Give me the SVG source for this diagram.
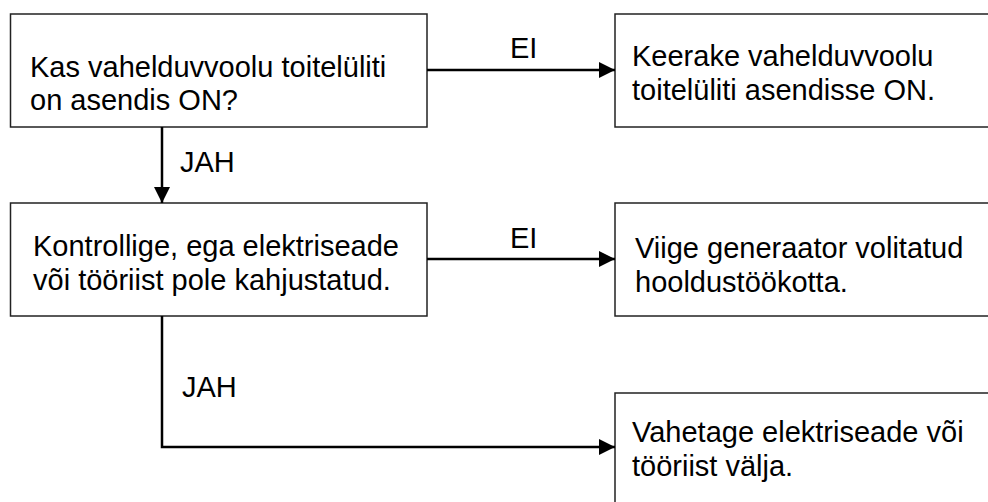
<svg xmlns="http://www.w3.org/2000/svg" width="988" height="502" viewBox="0 0 988 502">
<style>
.box{fill:#fff;stroke:#222;stroke-width:1.5}
.t{font-family:"Liberation Sans",Arial,sans-serif;font-size:29px;fill:#000}
.c{fill:none;stroke:#000;stroke-width:2.5}
</style>
<defs>
<marker id="ah" markerWidth="16" markerHeight="17" viewBox="0 0 16 17" refX="16" refY="8.5" orient="auto" markerUnits="userSpaceOnUse">
<path d="M0,0.5 L16,8.5 L0,16.5 Z" fill="#000"/>
</marker>
</defs>
<rect width="988" height="502" fill="#fff"/>
<g id="q1">
<rect class="box" x="10.5" y="14" width="416.5" height="113"/>
<text class="t" x="30" y="77">Kas vahelduvvoolu toitelüliti</text>
<text class="t" x="30" y="110">on asendis ON?</text>
</g>
<g id="a1">
<rect class="box" x="615" y="14" width="400" height="113"/>
<text class="t" x="632" y="66">Keerake vahelduvvoolu</text>
<text class="t" x="632" y="100">toitelüliti asendisse ON.</text>
</g>
<g id="q2">
<rect class="box" x="10.5" y="203" width="416.5" height="113"/>
<text class="t" x="33" y="256">Kontrollige, ega elektriseade</text>
<text class="t" x="33" y="290">või tööriist pole kahjustatud.</text>
</g>
<g id="a2">
<rect class="box" x="615" y="203" width="400" height="113"/>
<text class="t" x="635" y="258">Viige generaator volitatud</text>
<text class="t" x="635" y="292">hooldustöökotta.</text>
</g>
<g id="a3">
<rect class="box" x="615" y="393" width="400" height="130"/>
<text class="t" x="632" y="442">Vahetage elektriseade või</text>
<text class="t" x="632" y="476">tööriist välja.</text>
</g>
<g id="connectors">
<line class="c" x1="427" y1="70" x2="615" y2="70" marker-end="url(#ah)"/>
<line class="c" x1="162" y1="127" x2="162" y2="203" marker-end="url(#ah)"/>
<line class="c" x1="427" y1="259" x2="615" y2="259" marker-end="url(#ah)"/>
<polyline class="c" points="162,316 162,447 615,447" marker-end="url(#ah)"/>
<text class="t" x="510" y="58">EI</text>
<text class="t" x="180" y="172">JAH</text>
<text class="t" x="510" y="248">EI</text>
<text class="t" x="182" y="397">JAH</text>
</g>
</svg>
